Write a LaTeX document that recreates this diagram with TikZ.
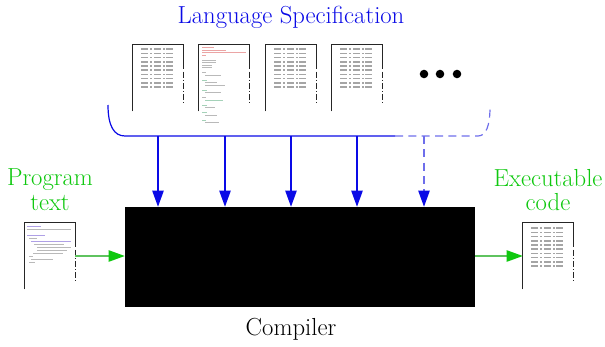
\documentclass[tikz,border=0pt]{standalone}
\usetikzlibrary{arrows.meta, positioning, calc}
\definecolor{specblue}{RGB}{10,10,230}
\definecolor{specdash}{RGB}{110,110,235}
\definecolor{flowgreen}{RGB}{15,200,15}
\definecolor{flowline}{RGB}{95,195,95}
\definecolor{rowgray}{RGB}{165,165,165}
\definecolor{codegray}{RGB}{185,185,185}
\definecolor{codered}{RGB}{235,165,165}
\definecolor{codegreen}{RGB}{165,210,185}
\definecolor{codepurple}{RGB}{175,160,230}

\tikzset{
  docnode/.style={minimum width=37.5pt, minimum height=49.5pt, inner sep=0pt},
  docedge/.style={line width=1pt, black!85},
  docdash/.style={docedge, dash pattern=on 4.5pt off 1.5pt on 0.8pt off 1.5pt},
  rowline/.style={line width=1.1pt, rowgray},
  codeline/.style={line width=0.6pt},
  specarrow/.style={line width=0.9pt, specblue, -{Triangle[length=12pt,width=8.5pt,color=specblue]}},
  flowarrow/.style={line width=0.9pt, flowline, -{Triangle[length=12pt,width=8.5pt,color=flowgreen]}},
  bigtext/.style={font=\fontsize{18.5}{18.5}\selectfont, align=center, inner sep=0pt},
}

% document page: name, left x, top y
\newcommand{\docpage}[3]{%
  \node[docnode] (#1) at ({#2+25},{#3+33}) {};
  \draw[docedge] (#1.south west) -- (#1.north west) -- (#1.north east) -- ++(0,24);
  \draw[docdash] ($(#1.north east)+(0,27)$) -- ($(#1.north east)+(0,59)$);
}
% table rows inside a page: left x, top y, rows
\newcommand{\tablerows}[3]{%
  \foreach \r in {1,...,#3}
    \draw[rowline] ({#1+8},{#2+4.2*\r}) -- ++(7,0) ++(2,0) -- ++(2,0) ++(2,0)
      -- ++(7,0) ++(2,0) -- ++(2,0) ++(1,0) -- ++(7,0);
}

\begin{document}
\begin{tikzpicture}[x=0.75pt, y=-0.75pt]
  \useasboundingbox (0,0) rectangle (605,346);
  % Title
  \node[bigtext, specblue] (spectitle) at (291,17) {Language Specification};
  % Specification pages
  \docpage{spec1}{133}{45}
  \docpage{spec2}{199}{45}
  \docpage{spec3}{266}{45}
  \docpage{spec4}{332}{45}
  \tablerows{133}{45}{10}
  \tablerows{266}{45}{10}
  \tablerows{332}{45}{10}
  % code page of the specification
  \foreach \ind/\len/\col [count=\r] in {3/12/codered,3/24/codered,3/44/codered,3/4/codered,
      0/0/white,3/14/codegray,3/14/codegray,3/10/codegray,3/10/codegray,0/0/white,3/4/codegray,
      6/16/codegray,0/0/white,3/5/codegreen,6/12/codegray,6/20/codegray,0/0/white,3/5/codegreen,
      6/16/codegray,0/0/white,3/4/codegray,6/18/codegreen,0/0/white,3/5/codegreen,6/10/codegray,
      0/0/white,3/5/codegreen,6/12/codegray,0/0/white,3/4/codegreen,6/14/codegray}
    \draw[codeline, \col] ({199+\ind},{45+2.5*\r}) -- ++(\len,0);
  % More dots
  \foreach \x in {424,440,457}
    \fill (\x,74) circle (3.2pt);
  % Brace under the specification
  \draw[specblue, line width=0.9pt] (108,105) .. controls (108,126) and (114,136) .. (125,136)
    -- (395,136) coordinate (bsolid);
  \draw[specdash, line width=0.9pt, dash pattern=on 6pt off 4pt] (bsolid) -- (478,136)
    .. controls (486,136) and (490,126) .. (490,107);
  \foreach \i/\x in {1/158,2/225,3/291,4/357,5/424}
    \coordinate (tap\i) at (\x,136);
  % Compiler
  \node[fill=black, minimum width=262.5pt, minimum height=75pt, inner sep=0pt] (compiler) at (300,257) {};
  \node[bigtext] (compilerlabel) at (291,329) {Compiler};
  \foreach \i in {1,...,4}
    \draw[specarrow] (tap\i) -- (tap\i |- compiler.north);
  \draw[specarrow, specdash, dash pattern=on 6pt off 4pt] (tap5) -- (tap5 |- compiler.north);
  % Program text
  \node[bigtext, flowgreen] (progtitle) at (50,190) {Program\\text};
  \docpage{prog}{25}{223}
  \foreach \ind/\len/\col [count=\r] in {2/14/codepurple,2/44/codegray,0/0/white,2/18/codepurple,
      4/8/codegray,6/40/codepurple,9/30/codegray,12/34/codegray,12/30/codegray,8/30/codegray,
      4/4/codegray,6/22/codegray,4/6/codegray}
    \draw[codeline, \col] ({25+\ind},{223+3*\r}) -- ++(\len,0);
  \draw[flowarrow] (prog.east) -- (prog.east -| compiler.west);
  % Executable code
  \node[bigtext, flowgreen] (exectitle) at (548,190) {Executable\\code};
  \docpage{exec}{523}{223}
  \tablerows{523}{224}{10}
  \draw[flowarrow] (compiler.east |- exec.west) -- (exec.west);
\end{tikzpicture}
\end{document}
